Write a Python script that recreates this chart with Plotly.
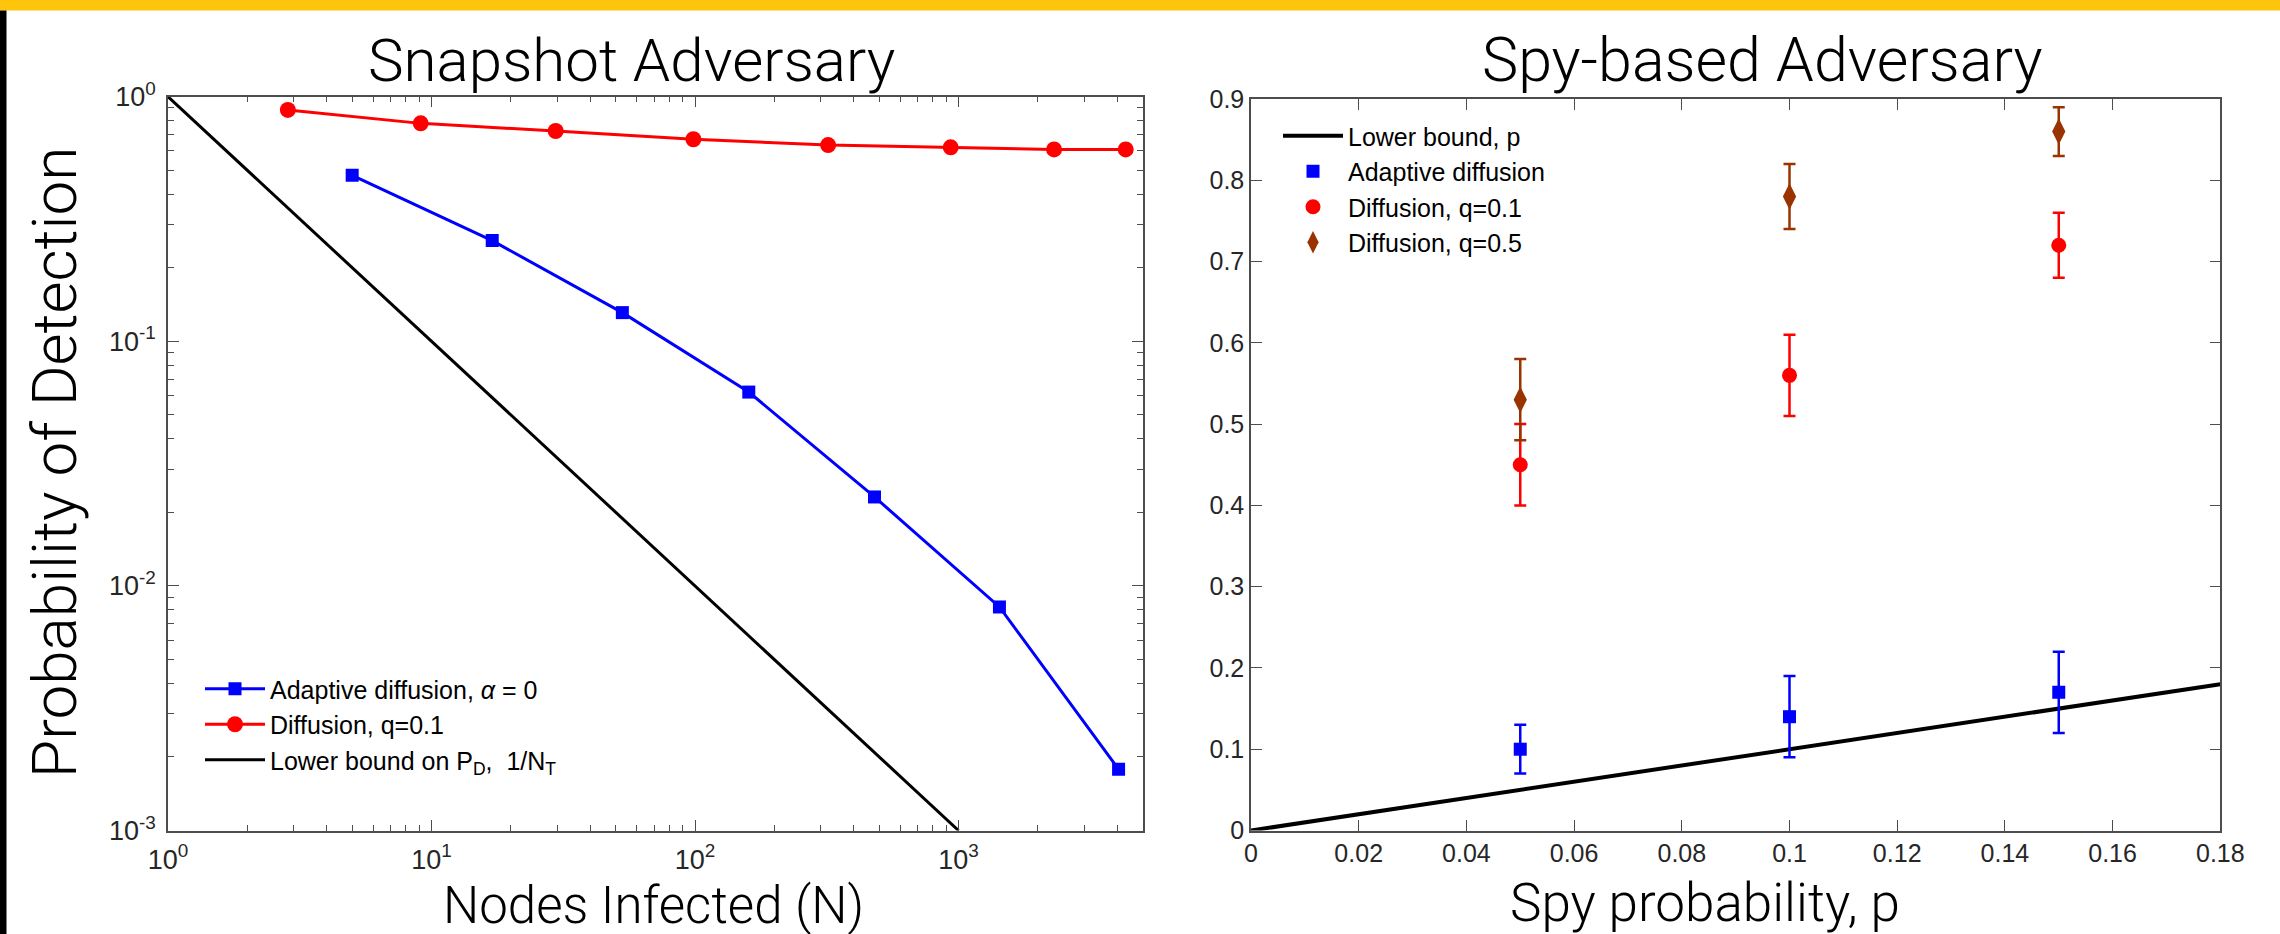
import plotly.graph_objects as go

# ---------------- data: Snapshot Adversary (left) ----------------
adaptive_N = [5, 17, 53, 160, 480, 1430, 4050]
adaptive_PD = [0.477, 0.258, 0.131, 0.062, 0.0231, 0.0082, 0.00178]
diffusion_N = [2.85, 9.1, 29.6, 98.6, 320, 934, 2305, 4310]
diffusion_PD = [0.883, 0.778, 0.724, 0.670, 0.634, 0.621, 0.609, 0.609]
bound_N = [1, 1000]
bound_PD = [1, 0.001]
log_tickvals = [1, 10, 100, 1000]
log_ticktext = ["10<sup>0</sup>", "10<sup>1</sup>", "10<sup>2</sup>", "10<sup>3</sup>"]
logy_tickvals = [0.001, 0.01, 0.1, 1]
logy_ticktext = ["10<sup>-3</sup>", "10<sup>-2</sup>", "10<sup>-1</sup>", "10<sup>0</sup>"]

# ---------------- data: Spy-based Adversary (right) ----------------
spy_p = [0.05, 0.10, 0.15]
adaptive_spy = [0.10, 0.14, 0.17]
adaptive_spy_err = [0.03, 0.05, 0.05]
diff01_spy = [0.45, 0.56, 0.72]
diff01_spy_err = [0.05, 0.05, 0.04]
diff05_spy = [0.53, 0.78, 0.86]
diff05_spy_err = [0.05, 0.04, 0.03]
bound_p = [0, 0.18]
bound_spy = [0, 0.18]

W, H = 2280, 934
BLUE, RED, BROWN = "#0000ff", "#ff0000", "#993300"
AX = "#4d4d4d"
TICKFONT = dict(family="Liberation Sans, Arial, sans-serif", size=27, color="#262626")
LEGFONT = dict(family="Liberation Sans, Arial, sans-serif", size=25, color="black")
LIGHT = "Roboto Light, Roboto, Lato, sans-serif"

def px(v):
    return v / W
def py(v):
    return 1 - v / H

fig = go.Figure()

# left panel
fig.add_trace(go.Scatter(x=adaptive_N, y=adaptive_PD, mode="lines+markers",
                         name="Adaptive diffusion, <i>α</i> = 0",
                         line=dict(color=BLUE, width=3),
                         marker=dict(symbol="square", size=13, color=BLUE),
                         xaxis="x", yaxis="y", legend="legend"))
fig.add_trace(go.Scatter(x=diffusion_N, y=diffusion_PD, mode="lines+markers",
                         name="Diffusion, q=0.1",
                         line=dict(color=RED, width=3),
                         marker=dict(symbol="circle", size=16, color=RED),
                         xaxis="x", yaxis="y", legend="legend"))
fig.add_trace(go.Scatter(x=bound_N, y=bound_PD, mode="lines",
                         name="Lower bound on P<sub>D</sub>,  1/N<sub>T</sub>",
                         line=dict(color="black", width=3),
                         xaxis="x", yaxis="y", legend="legend"))

# right panel
fig.add_trace(go.Scatter(x=bound_p, y=bound_spy, mode="lines", name="Lower bound, p",
                         line=dict(color="black", width=4),
                         xaxis="x2", yaxis="y2", legend="legend2"))
fig.add_trace(go.Scatter(x=spy_p, y=adaptive_spy, mode="markers", name="Adaptive diffusion",
                         marker=dict(symbol="square", size=13, color=BLUE),
                         error_y=dict(type="data", array=adaptive_spy_err, color=BLUE,
                                      thickness=2.5, width=6),
                         xaxis="x2", yaxis="y2", legend="legend2"))
fig.add_trace(go.Scatter(x=spy_p, y=diff01_spy, mode="markers", name="Diffusion, q=0.1",
                         marker=dict(symbol="circle", size=15, color=RED),
                         error_y=dict(type="data", array=diff01_spy_err, color=RED,
                                      thickness=2.5, width=6),
                         xaxis="x2", yaxis="y2", legend="legend2"))
fig.add_trace(go.Scatter(x=spy_p, y=diff05_spy, mode="markers", name="Diffusion, q=0.5",
                         marker=dict(symbol="diamond-tall", size=19, color=BROWN),
                         error_y=dict(type="data", array=diff05_spy_err, color=BROWN,
                                      thickness=2.5, width=6),
                         xaxis="x2", yaxis="y2", legend="legend2"))

common = dict(showline=True, linecolor=AX, linewidth=1.5, mirror="ticks",
              ticks="inside", tickcolor=AX, tickwidth=1.2, ticklen=11,
              showgrid=False, zeroline=False, tickfont=TICKFONT, automargin=False)

fig.update_layout(
    width=W, height=H, autosize=False,
    margin=dict(l=0, r=0, t=0, b=0, pad=0, autoexpand=False),
    paper_bgcolor="white", plot_bgcolor="white",
    showlegend=True,
    xaxis=dict(type="log", range=[0, 3.699], domain=[px(168), px(1142.7)],
               tickmode="array", tickvals=log_tickvals, ticktext=log_ticktext,
               ticklabelstandoff=4,
               minor=dict(ticks="inside", ticklen=6, tickcolor=AX, tickwidth=1,
                          dtick="D1", showgrid=False),
               anchor="y", **common),
    yaxis=dict(type="log", range=[-3, 0], domain=[py(830.5), py(96.7)],
               tickmode="array", tickvals=logy_tickvals, ticktext=logy_ticktext,
               ticklabelstandoff=5,
               minor=dict(ticks="inside", ticklen=6, tickcolor=AX, tickwidth=1,
                          dtick="D1", showgrid=False),
               anchor="x", **common),
    xaxis2=dict(range=[0, 0.18], domain=[px(1251), px(2220.3)], dtick=0.02, tick0=0,
                anchor="y2", **{**common, "tickfont": dict(TICKFONT, size=25)}),
    yaxis2=dict(range=[0, 0.9], domain=[py(830.5), py(99)], dtick=0.1, tick0=0,
                anchor="x2", **{**common, "tickfont": dict(TICKFONT, size=25)}),
    legend=dict(x=px(200), y=py(666), xanchor="left", yanchor="top",
                bgcolor="rgba(0,0,0,0)", borderwidth=0, itemwidth=60, font=LEGFONT),
    legend2=dict(x=px(1278), y=py(113), xanchor="left", yanchor="top",
                 bgcolor="rgba(0,0,0,0)", borderwidth=0, itemwidth=60, font=LEGFONT),
    shapes=[
        dict(type="rect", xref="paper", yref="paper", x0=0, x1=1, y0=py(10.5), y1=1,
             fillcolor="#ffc40c", line=dict(width=0), layer="above"),
        dict(type="rect", xref="paper", yref="paper", x0=0, x1=px(6.5), y0=0, y1=py(10.5),
             fillcolor="black", line=dict(width=0), layer="above"),
    ],
    annotations=[
        dict(text="Snapshot Adversary", x=px(632), y=py(60), xref="paper", yref="paper",
             showarrow=False, xanchor="center", yanchor="middle",
             font=dict(family=LIGHT, size=60, color="black", weight=300)),
        dict(text="Spy-based Adversary", x=px(1762), y=py(60), xref="paper", yref="paper",
             showarrow=False, xanchor="center", yanchor="middle",
             font=dict(family=LIGHT, size=61, color="black", weight=300)),
        dict(text="Probability of Detection", x=px(55), y=py(463), xref="paper", yref="paper",
             showarrow=False, xanchor="center", yanchor="middle", textangle=-90,
             font=dict(family=LIGHT, size=62, color="black", weight=300)),
        dict(text="Nodes Infected (N)", x=px(653), y=py(905), xref="paper", yref="paper",
             showarrow=False, xanchor="center", yanchor="middle",
             font=dict(family=LIGHT, size=51, color="black", weight=300)),
        dict(text="Spy probability, p", x=px(1705), y=py(903), xref="paper", yref="paper",
             showarrow=False, xanchor="center", yanchor="middle",
             font=dict(family=LIGHT, size=53, color="black", weight=300)),
    ],
)

fig.write_html("out.html",
               config={"displayModeBar": False, "responsive": False},
               post_script="document.body.style.margin='0';document.body.style.overflow='hidden';")
